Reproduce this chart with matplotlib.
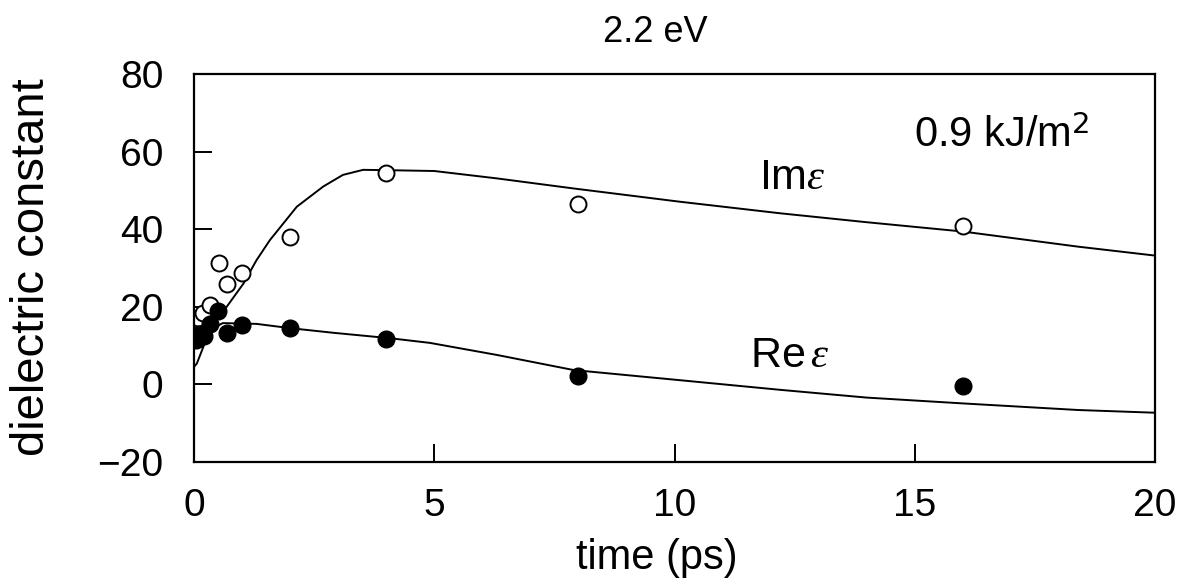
import numpy as np
import matplotlib
matplotlib.use('Agg')
import matplotlib.pyplot as plt

plt.rcParams['font.family'] = ['Liberation Sans', 'DejaVu Sans']
plt.rcParams['mathtext.fontset'] = 'custom'
plt.rcParams['mathtext.it'] = 'Liberation Serif:italic'

# fitted curves
t_im = [0.0, 0.06, 0.33, 0.68, 1.03, 1.3, 1.58, 2.14, 2.69, 3.1, 3.52, 4.08,
        5.0, 6.3, 7.9, 10.1, 12.2, 14.0, 16.0, 18.4, 20.0]
im_curve = [4.5, 5.4, 14.0, 20.0, 26.0, 32.0, 37.2, 45.8, 51.0, 54.0, 55.3, 55.2,
            55.0, 53.1, 50.5, 47.1, 44.1, 41.8, 39.4, 35.5, 33.2]

t_re = [0.0, 0.06, 0.6, 1.3, 2.0, 2.9, 4.08, 4.91, 6.3, 7.9, 10.1, 12.2,
        14.0, 16.0, 18.4, 20.0]
re_curve = [11.5, 12.3, 15.8, 15.6, 14.5, 13.3, 11.9, 10.7, 7.6, 3.7, 1.1, -1.4,
            -3.4, -4.9, -6.6, -7.3]

# measured points
t_im_pts = [0.08, 0.19, 0.33, 0.51, 0.68, 0.99, 2.0, 4.0, 8.0, 16.0]
im_pts = [17.0, 18.3, 20.5, 31.2, 25.8, 28.6, 38.1, 54.6, 46.5, 40.8]

t_re_pts = [0.05, 0.1, 0.2, 0.33, 0.5, 0.68, 1.0, 2.0, 4.0, 8.0, 16.0]
re_pts = [11.5, 13.0, 12.5, 15.5, 19.0, 13.2, 15.3, 14.5, 11.6, 2.2, -0.4]

fig = plt.figure(figsize=(11.79, 5.84), dpi=100)
ax = fig.add_axes([194/1179, 1-462/584, (1155-194)/1179, (462-74)/584])

ax.plot(t_im, im_curve, color='black', lw=1.4)
ax.plot(t_re, re_curve, color='black', lw=1.4)
ax.plot(t_im_pts, im_pts, 'o', ms=11.5, mfc='white', mec='black', mew=1.4)
ax.plot(t_re_pts, re_pts, 'o', ms=12, mfc='black', mec='black')

ax.set_xlim(0, 20)
ax.set_ylim(-20, 80)
ax.set_xticks([0, 5, 10, 15, 20])
ax.set_yticks([-20, 0, 20, 40, 60, 80])
ax.set_yticklabels(['\u221220', '0', '20', '40', '60', '80'])
ax.tick_params(direction='in', length=13, width=1.4, labelsize=28,
               top=False, right=False)
ax.tick_params(axis='x', pad=19)
ax.tick_params(axis='y', pad=22)
for s in ax.spines.values():
    s.set_linewidth(1.6)

ax.text(12.45, 53.2, 'Im$\\mathit{\\varepsilon}$', fontsize=31, ha='center', va='center')
ax.text(12.4, 7.3, 'Re$\\,\\mathit{\\varepsilon}$', fontsize=31, ha='center', va='center')
ax.text(16.8, 64, '0.9 kJ/m$^2$', fontsize=30, ha='center', va='center')

fig.text(655/1179, 1-32/584, '2.2 eV', fontsize=26, ha='center', va='center')
fig.text(657/1179, 1-558/584, 'time (ps)', fontsize=30, ha='center', va='center')
fig.text(32/1179, 1-267/584, 'dielectric constant', fontsize=34, rotation=90,
         ha='center', va='center')

fig.savefig('out.png', dpi=100)
